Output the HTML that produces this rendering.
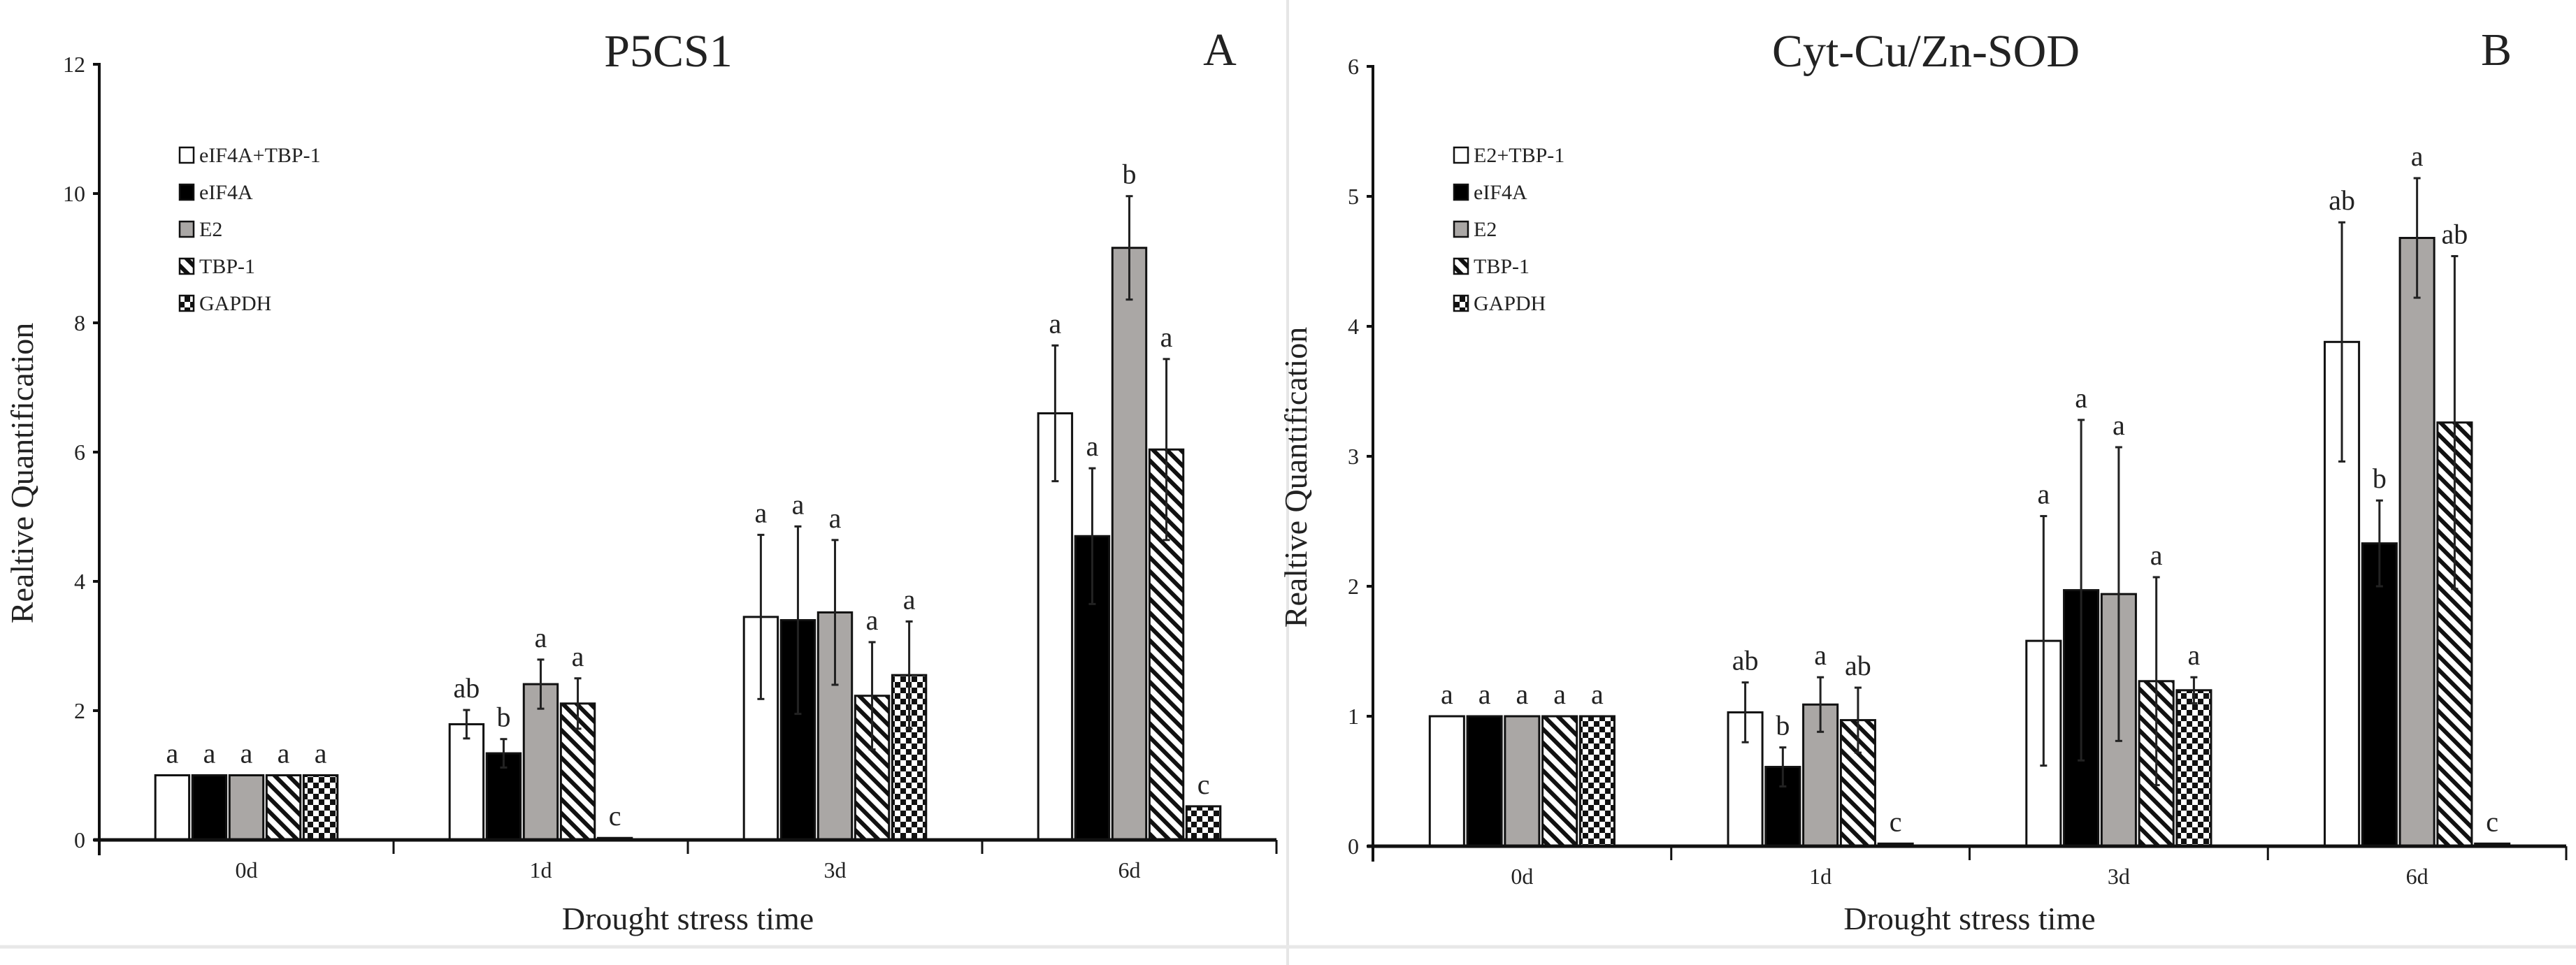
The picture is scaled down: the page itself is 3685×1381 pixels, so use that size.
<!DOCTYPE html>
<html><head><meta charset="utf-8"><style>
html,body{margin:0;padding:0;background:#fff;}
svg{display:block;}
text{font-family:"Liberation Serif",serif;fill:#222;}
</style></head>
<body>
<svg id="fig" width="3685" height="1381" viewBox="0 0 3685 1381" xmlns="http://www.w3.org/2000/svg">
<defs>
<pattern id="hatch" patternUnits="userSpaceOnUse" width="14" height="14" patternTransform="rotate(45)">
<rect width="14" height="14" fill="#fff"/><rect x="0" y="0" width="14" height="6" fill="#111"/>
</pattern>
<pattern id="check" patternUnits="userSpaceOnUse" width="16" height="16">
<rect width="16" height="16" fill="#fff"/><rect width="8" height="8" fill="#111"/><rect x="8" y="8" width="8" height="8" fill="#111"/>
</pattern>
</defs>
<rect width="3685" height="1381" fill="#fff"/>
<line x1="1842" y1="0" x2="1842" y2="1381" stroke="#e6e6e6" stroke-width="4"/>
<line x1="0" y1="1355" x2="3685" y2="1355" stroke="#e8e8e8" stroke-width="5"/>
<g id="chartA"></g>
<g id="chartB"></g>
</svg>
<script>
const categories = ["0d","1d","3d","6d"];
// Chart A (P5CS1)
const aNames = ["eIF4A+TBP-1","eIF4A","E2","TBP-1","GAPDH"];
const aVals = [
  [1, 1.79, 3.45, 6.6],
  [1, 1.34, 3.4, 4.7],
  [1, 2.41, 3.52, 9.16],
  [1, 2.11, 2.23, 6.04],
  [1, 0.03, 2.55, 0.52]
];
const aErr = [
  [0, 0.22, 1.27, 1.05],
  [0, 0.22, 1.45, 1.05],
  [0, 0.38, 1.12, 0.8],
  [0, 0.39, 0.83, 1.4],
  [0, 0, 0.83, 0]
];
const aLetters = [
  ["a","ab","a","a"],
  ["a","b","a","a"],
  ["a","a","a","b"],
  ["a","a","a","a"],
  ["a","c","a","c"]
];
const aTicks = [0,2,4,6,8,10,12];
// Chart B (Cyt-Cu/Zn-SOD)
const bNames = ["E2+TBP-1","eIF4A","E2","TBP-1","GAPDH"];
const bVals = [
  [1, 1.03, 1.58, 3.88],
  [1, 0.61, 1.97, 2.33],
  [1, 1.09, 1.94, 4.68],
  [1, 0.97, 1.27, 3.26],
  [1, 0.02, 1.2, 0.02]
];
const bErr = [
  [0, 0.23, 0.96, 0.92],
  [0, 0.15, 1.31, 0.33],
  [0, 0.21, 1.13, 0.46],
  [0, 0.25, 0.8, 1.28],
  [0, 0, 0.1, 0]
];
const bLetters = [
  ["a","ab","a","ab"],
  ["a","b","a","b"],
  ["a","a","a","a"],
  ["a","ab","a","ab"],
  ["a","c","a","c"]
];
const bTicks = [0,1,2,3,4,5,6];

const fills = ["#fff","#000","#aaa7a5","url(#hatch)","url(#check)"];
const NS = "http://www.w3.org/2000/svg";
function mk(tag, attrs, parent){ const e=document.createElementNS(NS,tag); for(const k in attrs) e.setAttribute(k,attrs[k]); parent.appendChild(e); return e; }

function drawChart(g, cfg){
  const {x0, x1, y0, yTop, max, ticks, vals, errs, letters, names, title, tag, titleX, tagX, legX, titleY} = cfg;
  const catW = (x1-x0)/categories.length;
  const yS = v => y0 - v/max*(y0-yTop);
  const xC = i => x0 + catW*(i+0.5);
  const bw = catW*0.115, step = catW*0.126;
  let t = mk("text",{x:titleX,y:titleY,"font-size":66,"text-anchor":"middle"},g); t.textContent=title;
  
  
  t = mk("text",{x:tagX,y:titleY-2,"font-size":66,"text-anchor":"middle"},g); t.textContent=tag;
  
  
  for(let s=0;s<vals.length;s++){
    for(let c=0;c<categories.length;c++){
      const v=vals[s][c], e=errs[s][c];
      const cx = xC(c) + (s-2)*step;
      const r = mk("rect",{x:cx-bw/2,y:yS(v),width:bw,height:y0-yS(v),fill:fills[s],stroke:"#111","stroke-width":3},g);
      
      
      if(e>0){
        const eg = mk("g",{stroke:"#222","stroke-width":3},g);
        
        
        mk("line",{x1:cx,y1:yS(v+e),x2:cx,y2:yS(v-e)},eg);
        mk("line",{x1:cx-5,y1:yS(v+e),x2:cx+5,y2:yS(v+e)},eg);
        mk("line",{x1:cx-5,y1:yS(v-e),x2:cx+5,y2:yS(v-e)},eg);
      }
      const lt = mk("text",{x:cx,y:yS(v+e)-18,"font-size":40,"text-anchor":"middle"},g);
      lt.textContent = letters[s][c];
      
      
    }
  }
  const ax = mk("g",{stroke:"#111"},g);
  
  
  mk("line",{x1:x0,y1:yTop-2,x2:x0,y2:y0+22,"stroke-width":4},ax);
  mk("line",{x1:x0-8,y1:y0,x2:x1,y2:y0,"stroke-width":5},ax);
  for(let i=1;i<=categories.length;i++) mk("line",{x1:x0+catW*i,y1:y0,x2:x0+catW*i,y2:y0+20,"stroke-width":3},ax);
  ticks.forEach(v=>{
    mk("line",{x1:x0-9,y1:yS(v),x2:x0,y2:yS(v),"stroke-width":4},ax);
    const tl = mk("text",{x:x0-20,y:yS(v)+11,"font-size":32,"text-anchor":"end"},g);
    tl.textContent = v;
    
    
  });
  categories.forEach((c,i)=>{
    const tl = mk("text",{x:xC(i),y:y0+54,"font-size":32,"text-anchor":"middle"},g);
    tl.textContent=c;
    
    
  });
  let at = mk("text",{x:(x0+x1)/2,y:1330,"font-size":46,"text-anchor":"middle"},g);
  at.textContent="Drought stress time";
  
  
  const yl = x0-95, ym = (y0+yTop)/2+30;
  at = mk("text",{x:yl,y:ym,"font-size":46,"text-anchor":"middle",transform:`rotate(-90 ${yl} ${ym})`},g);
  at.textContent="Realtive Quantification";
  
  
  names.forEach((n,i)=>{
    const ly = 222 + i*53;
    const lg = mk("g",{},g);
    
    
    mk("rect",{x:legX,y:ly-11,width:20,height:22,fill:fills[i],stroke:"#111","stroke-width":2.5},lg);
    const tx = mk("text",{x:legX+28,y:ly+10,"font-size":30},lg);
    tx.textContent=n;
  });
}
drawChart(document.getElementById("chartA"),{x0:142,x1:1826,y0:1202,yTop:92,max:12,ticks:aTicks,vals:aVals,errs:aErr,letters:aLetters,names:aNames,title:"P5CS1",tag:"A",titleX:956,tagX:1745,legX:257,titleY:95});
drawChart(document.getElementById("chartB"),{x0:1964,x1:3671,y0:1211,yTop:95,max:6,ticks:bTicks,vals:bVals,errs:bErr,letters:bLetters,names:bNames,title:"Cyt-Cu/Zn-SOD",tag:"B",titleX:2755,tagX:3571,legX:2080,titleY:95});
</script>
</body></html>
